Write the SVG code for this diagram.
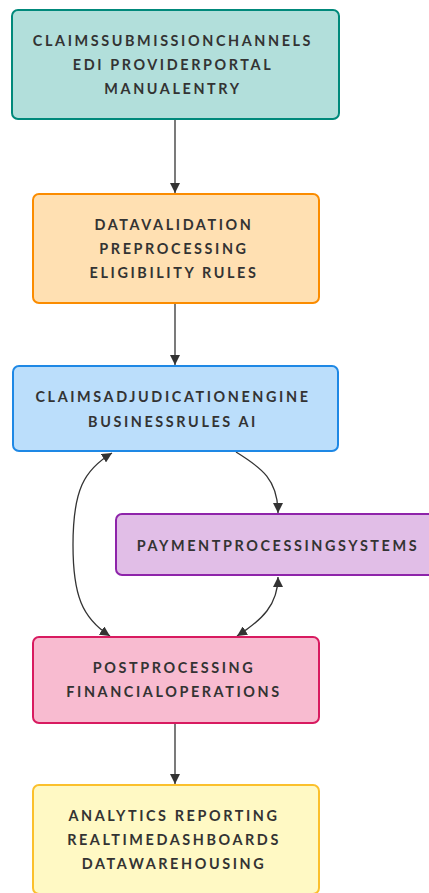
<svg xmlns="http://www.w3.org/2000/svg" width="429" height="893" viewBox="0 0 429 893">
<style>
.t{font-family:Lato,"Liberation Sans",sans-serif;font-weight:700;font-size:14.4px;letter-spacing:2.6px;fill:#333;text-anchor:middle;dominant-baseline:central}
.n rect{stroke-width:2}
.e{fill:none;stroke:#333;stroke-width:1.3}
</style>
<defs>
<marker id="ah" viewBox="0 0 10 10" refX="10" refY="5" markerWidth="10" markerHeight="10" markerUnits="userSpaceOnUse" orient="auto-start-reverse">
<path d="M0,0 L10,5 L0,10 z" fill="#333"/>
</marker>
</defs>
<rect width="429" height="893" fill="#fff"/>
<g id="edges">
<path class="e" d="M175,120 L175,193" marker-end="url(#ah)"/>
<path class="e" d="M175,304 L175,365" marker-end="url(#ah)"/>
<path class="e" d="M236,452 C262,468 278,480 278,513" marker-end="url(#ah)"/>
<path class="e" d="M110,636 C82,618 73,595 73,545 C73,490 84,470 112,453" marker-start="url(#ah)" marker-end="url(#ah)"/>
<path class="e" d="M278,577 C278,605 262,620 237,636" marker-start="url(#ah)" marker-end="url(#ah)"/>
<path class="e" d="M175,724 L175,784" marker-end="url(#ah)"/>
</g>
<g id="n1" class="n">
<rect x="12" y="10" width="327" height="109" rx="6" fill="#b2dfdb" stroke="#00897b"/>
<text class="t" x="173" y="40">CLAIMSSUBMISSIONCHANNELS</text>
<text class="t" x="173" y="64">EDI PROVIDERPORTAL</text>
<text class="t" x="173" y="88">MANUALENTRY</text>
</g>
<g id="n2" class="n">
<rect x="33" y="194" width="286" height="109" rx="6" fill="#ffe0b2" stroke="#fb8c00"/>
<text class="t" x="174" y="224">DATAVALIDATION</text>
<text class="t" x="174" y="248">PREPROCESSING</text>
<text class="t" x="174" y="272">ELIGIBILITY RULES</text>
</g>
<g id="n3" class="n">
<rect x="13" y="366" width="325" height="85" rx="6" fill="#bbdefb" stroke="#1e88e5"/>
<text class="t" x="173" y="396">CLAIMSADJUDICATIONENGINE</text>
<text class="t" x="173" y="421">BUSINESSRULES AI</text>
</g>
<g id="n4" class="n">
<rect x="116" y="514" width="330" height="61" rx="6" fill="#e1bee7" stroke="#8e24aa"/>
<text class="t" x="278" y="545">PAYMENTPROCESSINGSYSTEMS</text>
</g>
<g id="n5" class="n">
<rect x="33" y="637" width="286" height="86" rx="6" fill="#f8bbd0" stroke="#d81b60"/>
<text class="t" x="174" y="667">POSTPROCESSING</text>
<text class="t" x="174" y="691">FINANCIALOPERATIONS</text>
</g>
<g id="n6" class="n">
<rect x="33" y="785" width="286" height="109" rx="6" fill="#fff9c4" stroke="#fbc02d"/>
<text class="t" x="174" y="815">ANALYTICS REPORTING</text>
<text class="t" x="174" y="839">REALTIMEDASHBOARDS</text>
<text class="t" x="174" y="863">DATAWAREHOUSING</text>
</g>
</svg>
